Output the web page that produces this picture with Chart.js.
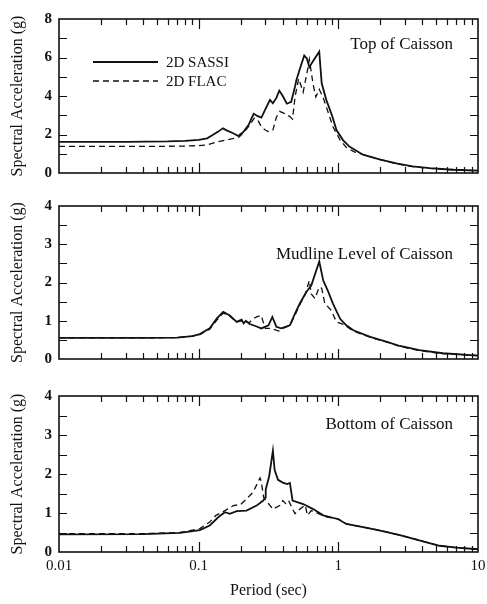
<!DOCTYPE html>
<html>
<head>
<meta charset="utf-8">
<script src="https://cdn.jsdelivr.net/npm/chart.js@4.4.0/dist/chart.umd.min.js"></script>
<style>
  body { margin: 0; background: #fff; }
  #wrap { position: relative; width: 487px; height: 604px; }
  canvas { position: absolute; left: 0; }
</style>
</head>
<body>
<div id="wrap">
  <canvas id="topChart" width="487" height="190" style="top:0px"></canvas>
  <canvas id="mudChart" width="487" height="190" style="top:190px"></canvas>
  <canvas id="botChart" width="487" height="224" style="top:380px"></canvas>
</div>
<script>
// period (sec) / spectral acceleration (g) for each location
const topSassiT = [0.01, 0.03, 0.06, 0.08, 0.1, 0.115, 0.126, 0.138, 0.149, 0.16, 0.175, 0.192, 0.21, 0.228, 0.239, 0.248, 0.265, 0.281, 0.3, 0.324, 0.34, 0.36, 0.378, 0.4, 0.428, 0.46, 0.49, 0.5, 0.53, 0.57, 0.595, 0.62, 0.67, 0.73, 0.76, 0.82, 0.9, 0.97, 1.08, 1.2, 1.5, 2.0, 2.6, 3.4, 4.5, 6.7, 10];
const topSassiSa = [1.62, 1.62, 1.64, 1.67, 1.72, 1.8, 1.97, 2.15, 2.32, 2.2, 2.08, 1.92, 2.15, 2.5, 2.84, 3.08, 2.95, 2.88, 3.3, 3.8, 3.62, 3.9, 4.28, 4.0, 3.6, 3.7, 4.5, 4.8, 5.4, 6.1, 5.95, 5.5, 5.9, 6.3, 4.66, 3.8, 3.0, 2.23, 1.71, 1.37, 0.95, 0.7, 0.5, 0.34, 0.25, 0.17, 0.12];
const topFlacT = [0.01, 0.05, 0.08, 0.1, 0.114, 0.13, 0.15, 0.175, 0.195, 0.21, 0.23, 0.25, 0.265, 0.281, 0.3, 0.315, 0.34, 0.36, 0.38, 0.41, 0.45, 0.47, 0.49, 0.52, 0.56, 0.6, 0.62, 0.66, 0.69, 0.73, 0.78, 0.82, 0.915, 1.03, 1.14, 1.3, 1.6, 2.0, 2.6, 3.4, 4.5, 6.7, 10];
const topFlacSa = [1.38, 1.38, 1.4, 1.42, 1.45, 1.58, 1.68, 1.78, 1.88, 2.1, 2.45, 2.85, 2.75, 2.4, 2.23, 2.15, 2.23, 2.9, 3.2, 3.1, 2.93, 2.8, 3.96, 4.9, 4.2, 5.3, 5.9, 4.6, 3.95, 4.35, 3.9, 3.44, 2.4, 1.71, 1.33, 1.1, 0.9, 0.7, 0.48, 0.33, 0.24, 0.16, 0.12];

const mudSassiT = [0.01, 0.04, 0.07, 0.09, 0.102, 0.12, 0.135, 0.15, 0.167, 0.187, 0.203, 0.21, 0.218, 0.23, 0.26, 0.281, 0.316, 0.337, 0.36, 0.39, 0.45, 0.49, 0.53, 0.59, 0.64, 0.73, 0.78, 0.84, 0.915, 1.03, 1.14, 1.28, 1.69, 2.23, 2.76, 3.8, 5.6, 10];
const mudSassiSa = [0.55, 0.55, 0.56, 0.6, 0.65, 0.8, 1.06, 1.23, 1.14, 0.97, 1.03, 0.93, 1.0, 0.92, 0.85, 0.8, 0.88, 1.1, 0.84, 0.8, 0.88, 1.19, 1.45, 1.75, 1.92, 2.55, 2.05, 1.79, 1.45, 1.05, 0.88, 0.75, 0.58, 0.45, 0.34, 0.23, 0.15, 0.09];
const mudFlacT = [0.01, 0.04, 0.07, 0.09, 0.102, 0.12, 0.135, 0.15, 0.167, 0.187, 0.203, 0.21, 0.218, 0.23, 0.245, 0.26, 0.28, 0.3, 0.33, 0.376, 0.4, 0.45, 0.49, 0.53, 0.58, 0.62, 0.64, 0.68, 0.73, 0.76, 0.8, 0.89, 0.97, 1.1, 1.28, 1.69, 2.23, 2.76, 3.8, 5.6, 10];
const mudFlacSa = [0.55, 0.55, 0.56, 0.6, 0.64, 0.78, 1.02, 1.2, 1.12, 0.97, 1.0, 0.95, 0.98, 0.95, 1.05, 1.1, 1.14, 0.8, 0.8, 0.73, 0.8, 0.88, 1.15, 1.42, 1.7, 2.05, 1.7, 1.58, 1.88, 1.85, 1.45, 1.27, 0.97, 0.9, 0.73, 0.57, 0.44, 0.33, 0.22, 0.14, 0.09];

const botSassiT = [0.01, 0.04, 0.0735, 0.102, 0.12, 0.138, 0.154, 0.167, 0.187, 0.22, 0.26, 0.29, 0.3, 0.302, 0.32, 0.34, 0.35, 0.37, 0.4, 0.43, 0.45, 0.47, 0.56, 0.66, 0.78, 1.0, 1.14, 1.6, 2.0, 2.76, 3.8, 5.3, 7.0, 10];
const botSassiSa = [0.45, 0.46, 0.49, 0.56, 0.68, 0.89, 1.02, 0.98, 1.05, 1.06, 1.19, 1.32, 1.4, 1.6, 1.95, 2.6, 2.1, 1.85, 1.78, 1.74, 1.77, 1.32, 1.23, 1.1, 0.94, 0.84, 0.72, 0.62, 0.55, 0.43, 0.3, 0.16, 0.11, 0.07];
const botFlacT = [0.01, 0.04, 0.0735, 0.102, 0.12, 0.133, 0.154, 0.177, 0.2, 0.22, 0.245, 0.275, 0.28, 0.292, 0.34, 0.38, 0.4, 0.42, 0.44, 0.49, 0.53, 0.58, 0.6, 0.64, 0.7, 0.82, 1.0, 1.14, 1.6, 2.0, 2.76, 3.8, 5.3, 7.0, 10];
const botFlacSa = [0.47, 0.47, 0.5, 0.6, 0.77, 0.94, 1.06, 1.19, 1.22, 1.36, 1.53, 1.9, 1.82, 1.4, 1.1, 1.19, 1.32, 1.24, 1.32, 0.98, 1.1, 1.2, 0.94, 1.06, 1.0, 0.9, 0.85, 0.72, 0.62, 0.55, 0.43, 0.3, 0.16, 0.11, 0.07];

const periodTicks = [0.01, 0.1, 1, 10];
const seriesNames = ["2D SASSI", "2D FLAC"];

const INK = "#111";
const SERIF = "'Liberation Serif', 'DejaVu Serif', serif";

const toPoints = (t, sa) => t.map((v, i) => ({ x: v, y: sa[i] }));

// frame with inward ticks on all four sides, caption and legend
const frameTicks = {
  id: "frameTicks",
  afterDatasetsDraw(chart, args, opts) {
    const { ctx, chartArea: a, scales: { x, y } } = chart;
    ctx.save();
    ctx.strokeStyle = INK;
    ctx.lineWidth = 1.2;
    ctx.beginPath();
    [0.01, 0.1, 1].forEach((d) => {
      for (let m = 1; m <= 9; m++) {
        const v = d * m;
        if (v <= x.min || v >= x.max) continue;
        const px = Math.round(x.getPixelForValue(v)) + 0.5;
        const len = m === 1 ? 10 : 6;
        ctx.moveTo(px, a.bottom);
        ctx.lineTo(px, a.bottom - len);
        ctx.moveTo(px, a.top);
        ctx.lineTo(px, a.top + len);
      }
    });
    for (let v = opts.yStep; v < y.max - 1e-6; v += opts.yStep) {
      const py = Math.round(y.getPixelForValue(v)) + 0.5;
      ctx.moveTo(a.left, py);
      ctx.lineTo(a.left + 8, py);
      ctx.moveTo(a.right, py);
      ctx.lineTo(a.right - 8, py);
    }
    ctx.stroke();
    ctx.lineWidth = 1.6;
    ctx.strokeRect(a.left, a.top, a.right - a.left, a.bottom - a.top);

    ctx.fillStyle = INK;
    ctx.font = `17px ${SERIF}`;
    ctx.textAlign = "right";
    ctx.textBaseline = "middle";
    ctx.fillText(opts.caption, a.right - 25, opts.captionY);

    if (opts.legend) {
      ctx.font = `15px ${SERIF}`;
      ctx.textAlign = "left";
      chart.data.datasets.forEach((ds, i) => {
        const ly = 62 + i * 19;
        ctx.lineWidth = ds.borderWidth;
        ctx.setLineDash(ds.borderDash || []);
        ctx.beginPath();
        ctx.moveTo(93, ly);
        ctx.lineTo(158, ly);
        ctx.stroke();
        ctx.setLineDash([]);
        ctx.fillText(ds.label, 166, ly + 1);
      });
    }
    ctx.restore();
  },
};

const createChart = (chartId, sassi, flac, yMax, yLabelStep, yStep, caption, captionY, padding, showPeriod, legend) => {
  const ctx = document.getElementById(chartId).getContext("2d");
  return new Chart(ctx, {
    type: "line",
    data: {
      datasets: [
        {
          label: seriesNames[0],
          data: sassi,
          borderColor: INK,
          borderWidth: 1.8,
          pointRadius: 0,
          tension: 0,
        },
        {
          label: seriesNames[1],
          data: flac,
          borderColor: INK,
          borderWidth: 1.3,
          borderDash: [6, 4],
          pointRadius: 0,
          tension: 0,
        },
      ],
    },
    options: {
      responsive: false,
      animation: false,
      devicePixelRatio: 1,
      layout: { padding: padding },
      plugins: {
        legend: { display: false },
        tooltip: { enabled: false },
        frameTicks: { yStep: yStep, caption: caption, captionY: captionY, legend: legend },
      },
      scales: {
        x: {
          type: "logarithmic",
          min: 0.01,
          max: 10,
          display: showPeriod,
          grid: { display: false, drawTicks: false },
          border: { display: false },
          afterBuildTicks: (scale) => {
            scale.ticks = periodTicks.map((v) => ({ value: v }));
          },
          afterFit: (scale) => {
            if (!showPeriod) return;
            scale.height = 52;
            // end labels may overhang into the margins
            scale.paddingLeft = 0;
            scale.paddingRight = 0;
          },
          ticks: {
            color: INK,
            padding: 5,
            maxRotation: 0,
            font: { family: SERIF, size: 15 },
            callback: (v) => String(v),
          },
          title: {
            display: true,
            text: "Period (sec)",
            color: INK,
            font: { family: SERIF, size: 16 },
            padding: { top: 0, bottom: 4 },
          },
        },
        y: {
          min: 0,
          max: yMax,
          grid: { display: false, drawTicks: false },
          border: { display: false },
          afterFit: (scale) => {
            scale.width = 59;
          },
          ticks: {
            stepSize: yLabelStep,
            color: INK,
            padding: 7,
            font: { family: SERIF, size: 15, weight: "bold" },
          },
          title: {
            display: true,
            text: "Spectral Acceleration (g)",
            color: INK,
            font: { family: SERIF, size: 16 },
            padding: { top: 8, bottom: 0 },
          },
        },
      },
    },
    plugins: [frameTicks],
  });
};

createChart("topChart", toPoints(topSassiT, topSassiSa), toPoints(topFlacT, topFlacSa),
  8, 2, 1, "Top of Caisson", 45, { top: 19, bottom: 17, left: 0, right: 9 }, false, true);
createChart("mudChart", toPoints(mudSassiT, mudSassiSa), toPoints(mudFlacT, mudFlacSa),
  4, 1, 0.5, "Mudline Level of Caisson", 65, { top: 15, bottom: 21, left: 0, right: 9 }, false, false);
createChart("botChart", toPoints(botSassiT, botSassiSa), toPoints(botFlacT, botFlacSa),
  4, 1, 0.5, "Bottom of Caisson", 45, { top: 14, bottom: 0, left: 0, right: 9 }, true, false);
</script>
</body>
</html>
